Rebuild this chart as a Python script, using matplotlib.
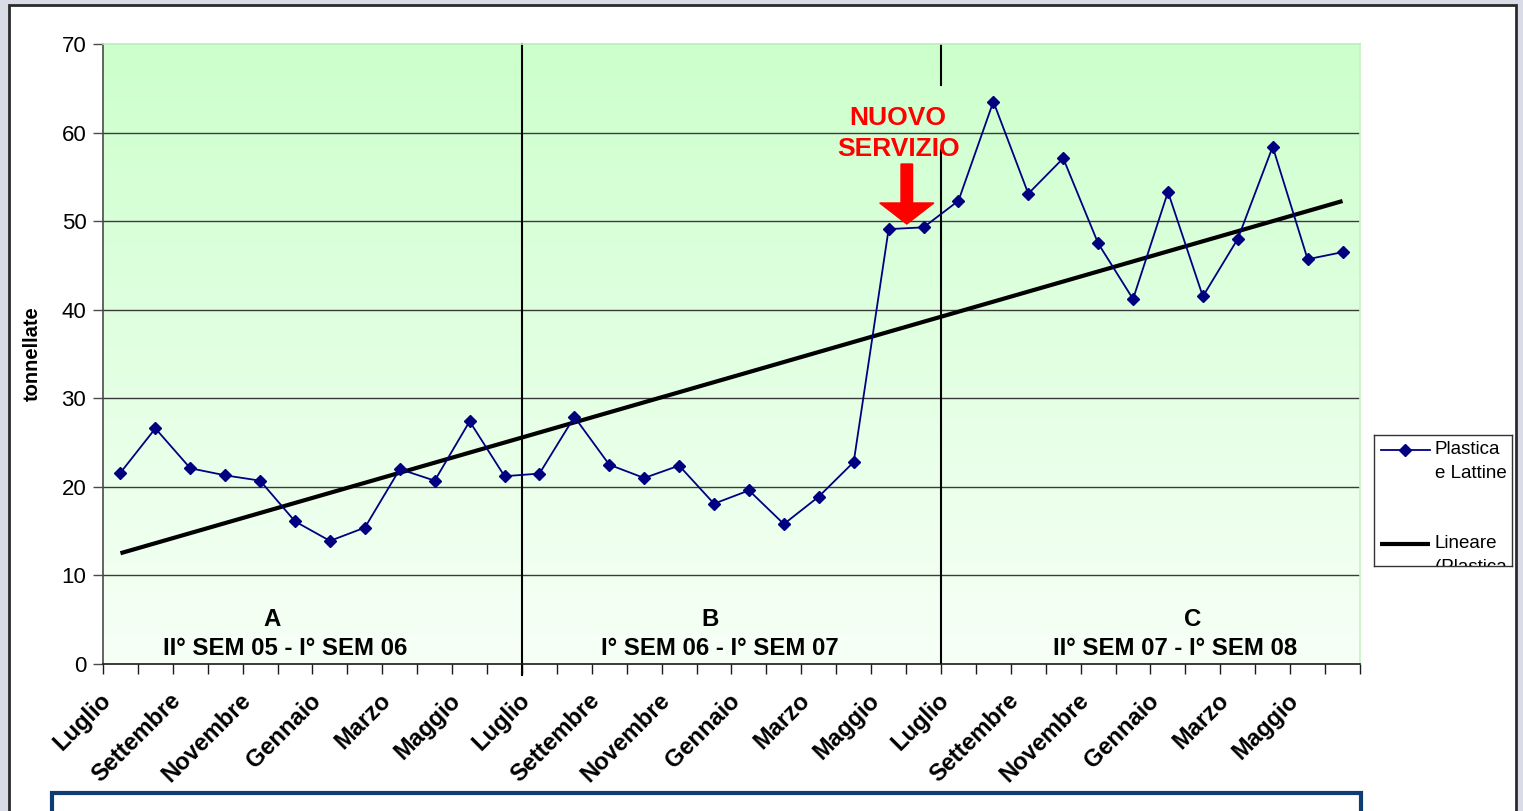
import numpy as np
import matplotlib
matplotlib.use("Agg")
import matplotlib.pyplot as plt
from matplotlib.colors import LinearSegmentedColormap
from matplotlib.patches import Rectangle, FancyArrow
from matplotlib.transforms import ScaledTranslation

plt.rcParams['font.family'] = ['Liberation Sans', 'DejaVu Sans']

# months, three periods of 12
months = ["Luglio", "Agosto", "Settembre", "Ottobre", "Novembre", "Dicembre",
          "Gennaio", "Febbraio", "Marzo", "Aprile", "Maggio", "Giugno"] * 3

plastica = [21.6, 26.6, 22.1, 21.3, 20.7, 16.1, 13.9, 15.4, 22.0, 20.7, 27.4, 21.2,
            21.5, 27.9, 22.5, 21.0, 22.4, 18.1, 19.6, 15.8, 18.9, 22.8, 49.1, 49.3,
            52.3, 63.5, 53.1, 57.1, 47.5, 41.2, 53.3, 41.5, 48.0, 58.4, 45.7, 46.5]

period_letters = ["A", "B", "C"]
period_names = ["II° SEM 05 - I° SEM 06", "I° SEM 06 - I° SEM 07", "II° SEM 07 - I° SEM 08"]

x = np.arange(len(plastica))
y = np.array(plastica)

# linear trend ("Lineare")
coef = np.polyfit(x, y, 1)
trend = np.polyval(coef, x)

fig = plt.figure(figsize=(15.23, 8.11), dpi=100)
fig.patch.set_facecolor('#d9dce6')

W, H = 1523, 811

# white panel with dark frame
fig.patches.append(Rectangle((9 / W, -0.05), (1516 - 9) / W, (H - 5) / H + 0.05,
                             transform=fig.transFigure, facecolor='white',
                             edgecolor='#2b2b2b', linewidth=2, zorder=-2))
# blue box at the bottom
fig.patches.append(Rectangle((52 / W, -0.05), (1361 - 52) / W, (H - 793) / H + 0.05,
                             transform=fig.transFigure, facecolor='white',
                             edgecolor='#0d3d73', linewidth=3, zorder=-1))

ax = fig.add_axes([103 / W, (H - 664) / H, (1360 - 103) / W, (664 - 44) / H])
ax.set_zorder(2)
ax.set_xlim(-0.5, len(x) - 0.5)
ax.set_ylim(0, 70)

# green gradient background
cmap = LinearSegmentedColormap.from_list('bg', ['#f7fff7', '#ccffcc'])
grad = np.linspace(0, 1, 256).reshape(-1, 1)
ax.imshow(grad, extent=[-0.5, len(x) - 0.5, 0, 70], origin='lower', aspect='auto',
          cmap=cmap, zorder=0)

for v in range(10, 70, 10):
    ax.axhline(v, color='#3a3a3a', linewidth=1, zorder=1)

ax.plot(x, trend, color='black', linewidth=3, zorder=3, solid_capstyle='butt')
ax.plot(x, y, color='#000080', linewidth=1.3, marker='D', markersize=6.5,
        markerfacecolor='#000080', markeredgecolor='#000080', zorder=4)

# period separators
ax.plot([11.5, 11.5], [-1.2, 70], color='black', linewidth=1.5, clip_on=False, zorder=2)
ax.plot([23.5, 23.5], [65.4, 70], color='black', linewidth=1.5, zorder=2)
ax.plot([23.5, 23.5], [0, 58.0], color='black', linewidth=1.5, zorder=2)

# period labels
letter_x = [4.34, 16.88, 30.71]
name_x = [4.71, 17.17, 30.2]
for lx, nx, letter, name in zip(letter_x, name_x, period_letters, period_names):
    ax.text(lx, 5.08, letter, ha='center', va='center', fontsize=17.3,
            fontweight='bold', zorder=5)
    ax.text(nx, 1.8, name, ha='center', va='center', fontsize=17.3,
            fontweight='bold', zorder=5)

# NUOVO SERVIZIO marker
ax.text(22.27, 59.9, "NUOVO\nSERVIZIO", ha='center', va='center', color='#ff0000',
        fontsize=19, fontweight='bold', linespacing=1.38, zorder=6)
ax.add_patch(FancyArrow(22.52, 56.45, 0, -6.77, width=0.33, head_width=1.55,
                        head_length=2.37, length_includes_head=True,
                        color='#ff0000', zorder=6))

# spines
ax.spines['left'].set_color('#4a4a4a')
ax.spines['bottom'].set_color('#1a1a1a')
ax.spines['top'].set_color('#b8efb8')
ax.spines['right'].set_color('#c4f4c4')
for s in ax.spines.values():
    s.set_linewidth(1.2)

# y axis
ax.set_yticks(range(0, 71, 10))
ax.tick_params(axis='y', length=7, width=1, color='#4a4a4a', pad=5, labelsize=16)
ax.set_ylabel("tonnellate", fontsize=14.5, fontweight='bold', labelpad=14)

# x axis: tick marks at category borders, labels every other month
ax.set_xticks(np.arange(-0.5, len(x), 1))
ax.set_xticklabels([])
ax.tick_params(axis='x', which='major', length=7, width=1, color='#1a1a1a')
ax.set_xticks(x[::2], minor=True)
ax.set_xticklabels(months[::2], minor=True, rotation=45, ha='right',
                   rotation_mode='anchor', fontsize=17, fontweight='bold')
ax.tick_params(axis='x', which='minor', length=0, pad=18)
for lab in ax.get_xticklabels(minor=True):
    lab.set_transform(lab.get_transform() + ScaledTranslation(-21 / 100, 0, fig.dpi_scale_trans))

# legend box (clipped as in the original)
lg = fig.add_axes([1374 / W, (H - 566) / H, 138 / W, 131 / H])
lg.set_zorder(2)
lg.set_xlim(0, 138)
lg.set_ylim(131, 0)
lg.set_xticks([])
lg.set_yticks([])
for s in lg.spines.values():
    s.set_color('#333333')
    s.set_linewidth(1)
lg.plot([7, 56], [15, 15], color='#000080', linewidth=1.3)
lg.plot([31], [15], marker='D', markersize=6.5, color='#000080')
lg.text(61, 15, "Plastica", va='center', fontsize=13.5)
lg.text(61, 39, "e Lattine", va='center', fontsize=13.5)
lg.plot([6, 56], [109, 109], color='black', linewidth=3, solid_capstyle='butt')
lg.text(61, 108, "Lineare", va='center', fontsize=13.5)
lg.text(61, 133, "(Plastica e Lattine)", va='center', fontsize=13.5, clip_on=True)

fig.savefig("out.png", dpi=100, facecolor=fig.get_facecolor())
